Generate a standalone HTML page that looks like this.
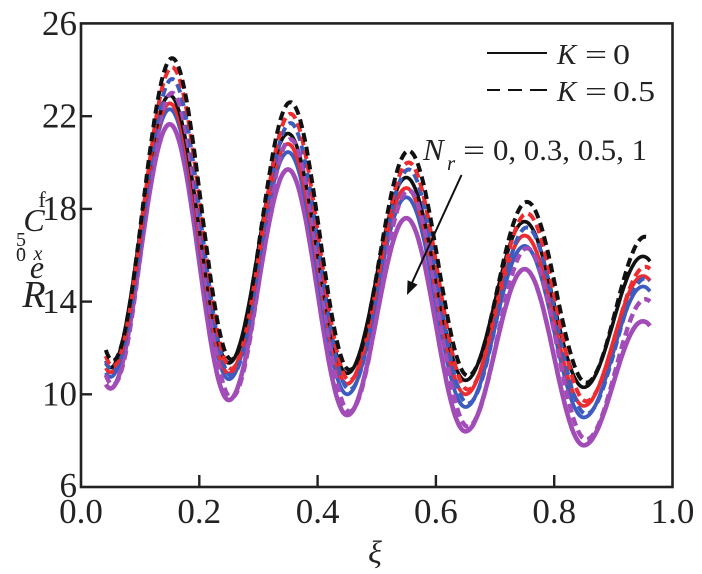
<!DOCTYPE html>
<html>
<head>
<meta charset="utf-8">
<style>
html,body{margin:0;padding:0;background:#fff;}
svg{display:block;}
text{font-family:"Liberation Serif","DejaVu Serif",serif;fill:#222;}
.it{font-style:italic;}
</style>
</head>
<body>
<svg id="chart" width="702" height="574" viewBox="0 0 702 574" xmlns="http://www.w3.org/2000/svg">
<rect x="0" y="0" width="702" height="574" fill="#fff"/>
<g id="curves" fill="none" stroke-linejoin="round"></g>

<!-- axes box -->
<rect x="81" y="23.4" width="591.5" height="463.6" fill="none" stroke="#222" stroke-width="2.6"/>
<!-- ticks -->
<g stroke="#222" stroke-width="2.4">
<line x1="81" y1="394.3" x2="92" y2="394.3"/>
<line x1="81" y1="301.6" x2="92" y2="301.6"/>
<line x1="81" y1="208.9" x2="92" y2="208.9"/>
<line x1="81" y1="116.2" x2="92" y2="116.2"/>
<line x1="199.3" y1="487" x2="199.3" y2="475"/>
<line x1="317.6" y1="487" x2="317.6" y2="475"/>
<line x1="435.9" y1="487" x2="435.9" y2="475"/>
<line x1="554.2" y1="487" x2="554.2" y2="475"/>
</g>
<!-- y tick labels -->
<g font-size="35" text-anchor="end">
<text x="77" y="35">26</text>
<text x="77" y="127.5">22</text>
<text x="77" y="220">18</text>
<text x="77" y="313">14</text>
<text x="77" y="405.5">10</text>
<text x="77" y="497">6</text>
</g>
<!-- x tick labels -->
<g font-size="35" text-anchor="middle">
<text x="81" y="523">0.0</text>
<text x="199.3" y="523">0.2</text>
<text x="317.6" y="523">0.4</text>
<text x="435.9" y="523">0.6</text>
<text x="554.2" y="523">0.8</text>
<text x="672.5" y="523">1.0</text>
</g>
<!-- x label -->
<text class="it" x="375" y="563" font-size="32" text-anchor="middle">ξ</text>

<!-- y label (stacked column) -->
<g text-anchor="middle">
<text class="it" font-size="38" x="34" y="307">R</text>
<text class="it" font-size="32" x="37" y="278">e</text>
<text class="it" font-size="20" x="38" y="260">x</text>
<text font-size="20" x="21" y="261">0</text>
<text font-size="20" x="21" y="250">.</text>
<text font-size="20" x="21" y="246">5</text>
<text class="it" font-size="32" x="34" y="231">C</text>
<text font-size="22" x="42" y="207">f</text>
</g>

<!-- legend -->
<line x1="487" y1="53" x2="547" y2="53" stroke="#111" stroke-width="2"/>
<g stroke="#111" stroke-width="2">
<line x1="487" y1="90" x2="500" y2="90"/>
<line x1="508" y1="90" x2="522" y2="90"/>
<line x1="530" y1="90" x2="547" y2="90"/>
</g>
<text class="it" x="557" y="64" font-size="29">K</text>
<text x="585" y="64" font-size="29" textLength="22" lengthAdjust="spacingAndGlyphs">=</text>
<text x="613" y="64" font-size="29" textLength="17" lengthAdjust="spacingAndGlyphs">0</text>
<text class="it" x="557" y="101" font-size="29">K</text>
<text x="585" y="101" font-size="29" textLength="22" lengthAdjust="spacingAndGlyphs">=</text>
<text x="613" y="101" font-size="29" textLength="42" lengthAdjust="spacingAndGlyphs">0.5</text>

<!-- annotation -->
<text class="it" x="423" y="160" font-size="31">N</text>
<text class="it" x="447" y="170" font-size="21">r</text>
<text x="463" y="160" font-size="30" textLength="22" lengthAdjust="spacingAndGlyphs">=</text>
<text x="493" y="160" font-size="30" textLength="154" lengthAdjust="spacingAndGlyphs">0, 0.3, 0.5, 1</text>
<line x1="461.5" y1="175" x2="411" y2="285" stroke="#111" stroke-width="2"/>
<polygon points="407,295 417.6,284.6 407.6,280.2" fill="#111"/>
</svg>
<script>
(function(){
  var X=function(xi){return 81+xi*591.5;};
  var Y=function(v){return 487-(v-6)*23.18;};
  function curve(P,T,shift,x0,x1){
    var ext=[[-0.05,P[0]]];
    for(var k=0;k<5;k++){ext.push([0.05+0.2*k,T[k]]);ext.push([0.15+0.2*k,P[k]]);}
    ext.push([1.05,T[4]-0.3]);
    var d='';
    for(var xi=x0;xi<=x1+1e-9;xi+=0.002){
      var s=xi-shift,i=0;
      while(i<ext.length-2 && s>ext[i+1][0]) i++;
      var a=ext[i][1],b=ext[i+1][1],xa=ext[i][0],xb=ext[i+1][0];
      var t=(s-xa)/(xb-xa);
      var v=(a+b)/2+(a-b)/2*Math.cos(Math.PI*t);
      d+=(d?'L':'M')+X(xi).toFixed(1)+','+Y(v).toFixed(1);
    }
    return d;
  }
  var C={k:'#111111',r:'#ee2b2f',b:'#3c5cbf',p:'#a24cb8'};
  var series=[
    {c:C.p,w:4.6,dash:null,P:[21.65,19.7,17.6,15.4,13.15],T:[10.25,9.75,9.1,8.4,7.8]},
    {c:C.b,w:3.8,dash:null,P:[22.3,20.45,18.5,16.4,14.65],T:[10.75,10.65,10.0,9.45,9.0]},
    {c:C.r,w:3.8,dash:null,P:[22.55,20.8,18.9,16.85,15.1],T:[10.95,10.9,10.45,10.0,9.5]},
    {c:C.k,w:3.6,dash:null,P:[22.9,21.25,19.35,17.45,15.95],T:[11.15,11.35,10.9,10.6,10.3]},
    {c:C.p,w:4.4,dash:'9,5',P:[23.0,21.0,18.8,16.3,14.1],T:[10.4,9.85,9.25,8.6,8.05]},
    {c:C.b,w:4,dash:'9,5',P:[23.6,21.7,19.7,17.2,15.0],T:[11.0,10.8,10.2,9.6,9.15]},
    {c:C.r,w:4,dash:'9,5',P:[24.1,22.1,20.0,17.8,15.5],T:[11.2,11.1,10.6,10.2,9.7]},
    {c:C.k,w:4,dash:'9,5',P:[24.5,22.6,20.5,18.3,16.8],T:[11.45,11.5,11.05,10.8,10.5]}
  ];
  var g=document.getElementById('curves');
  var ns='http://www.w3.org/2000/svg';
  series.forEach(function(s){
    var p=document.createElementNS(ns,'path');
    p.setAttribute('d',curve(s.P,s.T,s.dash?0.004:0,0.042,0.962));
    p.setAttribute('stroke',s.c);
    p.setAttribute('stroke-width',s.w);
    if(s.dash) p.setAttribute('stroke-dasharray',s.dash);
    g.appendChild(p);
  });
})();
</script>
</body>
</html>
